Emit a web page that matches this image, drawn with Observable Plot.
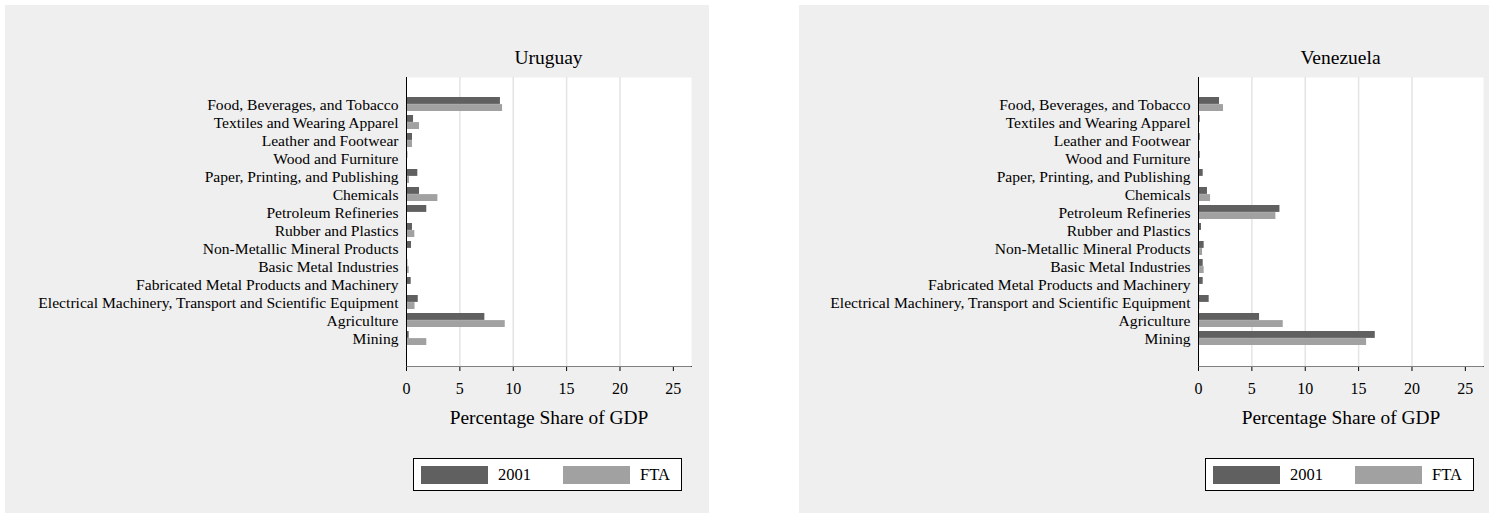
<!DOCTYPE html>
<html><head><meta charset="utf-8">
<script src="https://cdn.jsdelivr.net/npm/d3@7"></script>
<script src="https://cdn.jsdelivr.net/npm/@observablehq/plot@0.6"></script>
<style>
body{margin:0;background:#fff;font-family:"Liberation Serif",serif;color:#000;}
#wrap{position:relative;width:1489px;height:513px;overflow:hidden;}
.panel{position:absolute;top:5px;height:508px;background:#efefef;}
.panel svg{position:absolute;left:0;top:60px;overflow:visible;background:transparent;}
.title{position:absolute;top:53px;font-size:19.5px;font-weight:normal;transform:translate(-50%,-50%);white-space:nowrap;}
.legend{position:absolute;top:453px;box-sizing:border-box;border:1px solid #000;background:#fff;height:33px;width:269px;}
.sw{position:absolute;top:7px;width:67px;height:18px;}
.lt{position:absolute;top:50%;transform:translateY(-50%);font-size:16.5px;line-height:1;}
</style></head><body><div id="wrap"></div>
<script>
const categories = [
  "Food, Beverages, and Tobacco",
  "Textiles and Wearing Apparel",
  "Leather and Footwear",
  "Wood and Furniture",
  "Paper, Printing, and Publishing",
  "Chemicals",
  "Petroleum Refineries",
  "Rubber and Plastics",
  "Non-Metallic Mineral Products",
  "Basic Metal Industries",
  "Fabricated Metal Products and Machinery",
  "Electrical Machinery, Transport and Scientific Equipment",
  "Agriculture",
  "Mining"
];
const countries = ["Uruguay", "Venezuela"];
const seriesNames = ["2001", "FTA"];
const uruguay2001 = [8.8, 0.66, 0.56, 0.12, 1.06, 1.22, 1.9, 0.56, 0.47, 0.12, 0.44, 1.1, 7.34, 0.25];
const uruguayFTA  = [9.0, 1.22, 0.56, 0.03, 0.28, 2.94, 0.0, 0.78, 0.03, 0.25, 0.03, 0.8, 9.25, 1.9];
const venezuela2001 = [1.97, 0.16, 0.16, 0.16, 0.44, 0.84, 7.63, 0.28, 0.53, 0.44, 0.44, 1.0, 5.72, 16.56];
const venezuelaFTA  = [2.34, 0.03, 0.02, 0.02, 0.02, 1.13, 7.25, 0.05, 0.38, 0.53, 0.12, 0.12, 7.94, 15.75];
const xTicks = [0, 5, 10, 15, 20, 25];
const gridTicks = [5, 10, 15, 20];
const axisTitle = "Percentage Share of GDP";

const seriesColors = ["#606060", "#a1a1a1"];
const xMax = 26.7;

const panels = [
  {name: countries[0], left: 5, width: 704, ml: 401, mr: 18, vals: [uruguay2001, uruguayFTA]},
  {name: countries[1], left: 799, width: 690, ml: 399, mr: 6, vals: [venezuela2001, venezuelaFTA]}
];

const wrap = document.getElementById("wrap");
const svgHeight = 371, mt = 12, mb = 70;
const bandHalf = 7.1;

for (const p of panels) {
  const panel = document.createElement("div");
  panel.className = "panel";
  panel.style.left = p.left + "px";
  panel.style.width = p.width + "px";
  wrap.appendChild(panel);

  const rows = [];
  seriesNames.forEach((s, si) => categories.forEach((c, i) => rows.push({category: c, series: s, value: p.vals[si][i]})));

  const chart = Plot.plot({
    width: p.width,
    height: svgHeight,
    marginLeft: p.ml,
    marginRight: p.mr,
    marginTop: mt,
    marginBottom: mb,
    style: {background: "transparent", fontFamily: "Liberation Serif, serif", fontSize: "15.6px", color: "#000", overflow: "visible"},
    x: {domain: [0, xMax], ticks: xTicks, tickSize: 5, tickPadding: 11, label: null, line: true, tickFormat: d => String(d)},
    y: {type: "band", domain: categories, paddingInner: 0.22, paddingOuter: 1.035, align: 0.5, tickSize: 0, tickPadding: 8, label: null, line: true},
    marks: [
      Plot.frame({fill: "#fff", stroke: null}),
      Plot.ruleX(gridTicks, {stroke: "#e4e4e4", strokeWidth: 1.5}),
      Plot.barX(rows.filter(d => d.series === seriesNames[0]), {x: "value", y: "category", fill: seriesColors[0], insetBottom: bandHalf}),
      Plot.barX(rows.filter(d => d.series === seriesNames[1]), {x: "value", y: "category", fill: seriesColors[1], insetTop: bandHalf}),
      Plot.ruleX([0], {stroke: "#000"}),
      Plot.text([axisTitle], {text: d => d, frameAnchor: "bottom", dy: 57, fontSize: 19.4, fill: "#000"})
    ]
  });
  chart.querySelectorAll('g[aria-label="x-axis"] text, g[aria-label="x-axis tick label"] text').forEach(t => t.setAttribute("font-size", "16px"));
  panel.appendChild(chart);

  const title = document.createElement("div");
  title.className = "title";
  title.textContent = p.name;
  title.style.left = (p.ml + (p.width - p.ml - p.mr) / 2) + "px";
  panel.appendChild(title);

  const legend = document.createElement("div");
  legend.className = "legend";
  legend.style.left = (p.ml + 7) + "px";
  const swX = [7, 149], txX = [84, 226];
  seriesNames.forEach((s, i) => {
    const sw = document.createElement("div");
    sw.className = "sw";
    sw.style.left = swX[i] + "px";
    sw.style.background = seriesColors[i];
    legend.appendChild(sw);
    const t = document.createElement("div");
    t.className = "lt";
    t.style.left = txX[i] + "px";
    t.textContent = s;
    legend.appendChild(t);
  });
  panel.appendChild(legend);
}
</script>
</body></html>
